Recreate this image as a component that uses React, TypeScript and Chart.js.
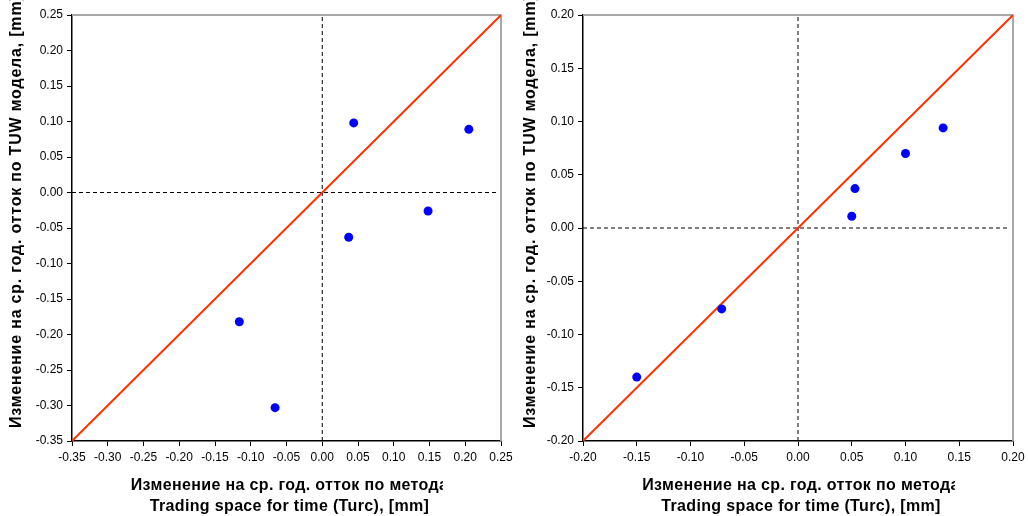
import React, { useEffect, useRef } from "react";
import { Chart, registerables } from "chart.js";

Chart.register(...registerables);

// ---------- data ----------
const LEFT_X = [0.044, 0.205, 0.148, 0.037, -0.116, -0.066];
const LEFT_Y = [0.098, 0.089, -0.026, -0.063, -0.182, -0.303];
const LEFT_RANGE = [-0.35, 0.25];

const RIGHT_X = [0.135, 0.1, 0.053, 0.05, -0.071, -0.15];
const RIGHT_Y = [0.094, 0.07, 0.037, 0.011, -0.076, -0.14];
const RIGHT_RANGE = [-0.2, 0.2];

const TICK_STEP = 0.05;

const Y_TITLE = "Изменение на ср. год. отток по TUW модела, [mm]";
const X_TITLE_1 = "Изменение на ср. год. отток по метода";
const X_TITLE_2 = "Trading space for time (Turc), [mm]";

const FONT = "'Liberation Sans', Arial, sans-serif";

type Cfg = {
  xs: number[];
  ys: number[];
  range: number[];
  yAxisWidth: number;
  rightPad: number;
  clipRight: number;
};

function fmt(v: number) {
  const s = Number(v).toFixed(2);
  return s === "-0.00" ? "0.00" : s;
}

function makeChart(canvas: HTMLCanvasElement, c: Cfg) {
  const [lo, hi] = c.range;
  const pts = c.xs.map((x, i) => ({ x, y: c.ys[i] }));

  const deco = {
    id: "deco",
    beforeDatasetsDraw(chart: any) {
      const { ctx, chartArea: a } = chart;
      ctx.save();
      ctx.strokeStyle = "#a8a8a8";
      ctx.lineWidth = 2;
      ctx.beginPath();
      ctx.moveTo(a.left, a.top);
      ctx.lineTo(a.right, a.top);
      ctx.lineTo(a.right, a.bottom);
      ctx.stroke();
      ctx.restore();
    },
    afterDraw(chart: any) {
      const { ctx, chartArea: a } = chart;
      ctx.save();
      ctx.fillStyle = "#000";
      ctx.font = `bold 16px ${FONT}`;
      // y title
      ctx.save();
      (ctx as any).letterSpacing = "0.8px";
      ctx.translate(17, 428);
      ctx.rotate(-Math.PI / 2);
      ctx.textAlign = "left";
      ctx.textBaseline = "middle";
      ctx.fillText(Y_TITLE, 0, 0);
      ctx.restore();
      // x title
      (ctx as any).letterSpacing = "0.35px";
      const cx = (a.left + a.right) / 2 + 3;
      ctx.textAlign = "center";
      ctx.textBaseline = "middle";
      ctx.save();
      ctx.beginPath();
      ctx.rect(0, 470, c.clipRight, 30);
      ctx.clip();
      ctx.fillText(X_TITLE_1, cx, 486);
      ctx.restore();
      ctx.fillText(X_TITLE_2, cx, 507);
      ctx.restore();
    },
  };

  const axisCommon = {
    type: "linear" as const,
    min: lo,
    max: hi,
    grid: {
      display: true,
      drawOnChartArea: false,
      drawTicks: true,
      tickLength: 5,
      color: "#000",
      lineWidth: 1,
    },
    border: { display: true, color: "#000", width: 1.5 },
    ticks: {
      stepSize: TICK_STEP,
      color: "#000",
      font: { family: FONT, size: 12 },
      callback: (v: any) => fmt(v),
      maxRotation: 0,
      autoSkip: false,
    },
  };

  return new Chart(canvas, {
    type: "scatter",
    data: {
      datasets: [
        {
          label: "points",
          data: pts,
          backgroundColor: "#0000ff",
          borderColor: "#0000ff",
          borderWidth: 0,
          pointRadius: 4.5,
          showLine: false,
        },
        {
          label: "1:1",
          data: [
            { x: lo, y: lo },
            { x: hi, y: hi },
          ],
          borderColor: "#ff3300",
          borderWidth: 2,
          pointRadius: 0,
          showLine: true,
        },
        {
          label: "x0",
          data: [
            { x: 0, y: lo },
            { x: 0, y: hi },
          ],
          borderColor: "#000",
          borderWidth: 1,
          borderDash: [4, 3],
          pointRadius: 0,
          showLine: true,
        },
        {
          label: "y0",
          data: [
            { x: lo, y: 0 },
            { x: hi - 0.005, y: 0 },
          ],
          borderColor: "#000",
          borderWidth: 1,
          borderDash: [4, 3],
          pointRadius: 0,
          showLine: true,
        },
      ],
    },
    options: {
      animation: false,
      responsive: false,
      maintainAspectRatio: false,
      layout: { padding: { left: 0, right: c.rightPad, top: 15, bottom: 0 } },
      plugins: {
        legend: { display: false },
        tooltip: { enabled: false },
        title: { display: false },
      },
      scales: {
        x: {
          ...axisCommon,
          position: "bottom",
          ticks: { ...axisCommon.ticks, padding: 4 },
          afterFit: (s: any) => {
            s.height = 75;
            s.paddingLeft = 0;
            s.paddingRight = 0;
          },
        },
        y: {
          ...axisCommon,
          position: "left",
          ticks: { ...axisCommon.ticks, padding: 4 },
          afterFit: (s: any) => {
            s.width = c.yAxisWidth;
            s.paddingTop = 0;
            s.paddingBottom = 0;
          },
        },
      },
    } as any,
    plugins: [deco],
  });
}

function Panel({ cfg, left }: { cfg: Cfg; left: number }) {
  const ref = useRef<HTMLCanvasElement | null>(null);
  useEffect(() => {
    if (!ref.current) return;
    const ch = makeChart(ref.current, cfg);
    return () => ch.destroy();
  }, []);
  return (
    <div style={{ position: "absolute", left, top: 0, width: 514, height: 516 }}>
      <canvas ref={ref} width={514} height={516} style={{ width: 514, height: 516, display: "block" }} />
    </div>
  );
}

export default function App() {
  return (
    <div
      style={{
        position: "fixed",
        left: 0,
        top: 0,
        width: 1028,
        height: 516,
        background: "#fff",
        overflow: "hidden",
      }}
    >
      <Panel
        left={0}
        cfg={{ xs: LEFT_X, ys: LEFT_Y, range: LEFT_RANGE, yAxisWidth: 72, rightPad: 13, clipRight: 443 }}
      />
      <Panel
        left={514}
        cfg={{ xs: RIGHT_X, ys: RIGHT_Y, range: RIGHT_RANGE, yAxisWidth: 69, rightPad: 15, clipRight: 441 }}
      />
    </div>
  );
}
